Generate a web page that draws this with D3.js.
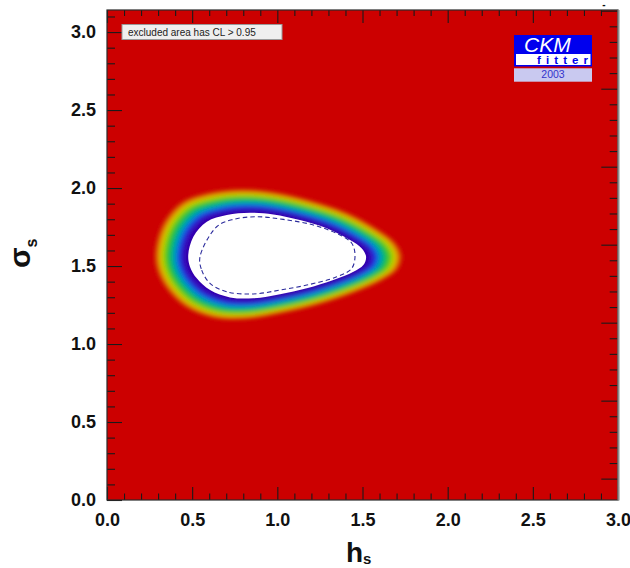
<!DOCTYPE html>
<html>
<head>
<meta charset="utf-8">
<script src="https://cdn.jsdelivr.net/npm/d3@7"></script>
<style>
  html, body { margin: 0; padding: 0; background: #fff; }
  svg { display: block; font-family: "Liberation Sans", Arial, Helvetica, sans-serif; }
</style>
</head>
<body>
<svg id="chart" width="630" height="568"></svg>
<script>
// Boundary of the allowed (white) region, as [h_s, sigma_s]
const allowedEdge = [
  [0.477, 1.571], [0.487, 1.496], [0.527, 1.421], [0.605, 1.346], [0.722, 1.299],
  [0.859, 1.293], [1.016, 1.319], [1.173, 1.357], [1.329, 1.410], [1.447, 1.463],
  [1.505, 1.506], [1.521, 1.560], [1.496, 1.613], [1.427, 1.667], [1.290, 1.742],
  [1.133, 1.795], [0.977, 1.831], [0.840, 1.842], [0.703, 1.827], [0.586, 1.784],
  [0.507, 1.688]
];

// Inner dashed contour
const dashedContour = [
  [0.546, 1.560], [0.556, 1.474], [0.605, 1.389], [0.703, 1.335], [0.859, 1.321],
  [1.016, 1.346], [1.173, 1.378], [1.349, 1.431], [1.437, 1.485], [1.456, 1.571],
  [1.437, 1.646], [1.368, 1.699], [1.212, 1.763], [1.035, 1.799], [0.879, 1.816],
  [0.742, 1.799], [0.644, 1.752]
];

// Outer edge of the coloured band, where it fades into the excluded area
const outerEdge = [
  [0.272, 1.560], [0.292, 1.410], [0.351, 1.282], [0.487, 1.197], [0.683, 1.154],
  [0.879, 1.154], [1.075, 1.197], [1.270, 1.250], [1.467, 1.314], [1.643, 1.410],
  [1.740, 1.528], [1.681, 1.624], [1.564, 1.752], [1.368, 1.870], [1.173, 1.934],
  [0.977, 1.976], [0.781, 1.998], [0.586, 1.976], [0.389, 1.923], [0.331, 1.838],
  [0.292, 1.731]
];

// Axis ranges and ticks
const hDomain = [0, 3];
const sigmaDomain = [0, Math.PI];
const rightAxisStart = -0.137;
const majorTicks = [0, 0.5, 1.0, 1.5, 2.0, 2.5, 3.0];
const minorTicks = d3.range(0, 31).map(i => i / 10).filter(v => Math.round(v * 10) % 5 !== 0);
const sigmaMinorTicks = minorTicks.concat([3.1]);

// Colour ramp across the band: 0 = edge of allowed region, 1 = excluded
const rampStops  = [0.0, 0.16, 0.26, 0.35, 0.44, 0.56, 0.68, 0.77, 0.87, 0.95, 1.0];
const rampColors = ["#3000a8", "#3a0cbe", "#1a38e4", "#0086d8", "#00aca0", "#12c042",
                    "#7ccd00", "#d2d200", "#e07c00", "#d42200", "#cc0000"];

const legendText = "excluded area has CL > 0.95";

const svg = d3.select("#chart");
const frameL = 107, frameR = 618, frameT = 10, frameB = 500;

const x = d3.scaleLinear().domain(hDomain).range([frameL, frameR]);
const y = d3.scaleLinear().domain(sigmaDomain).range([frameB, frameT]);
const yR = d3.scaleLinear().domain([rightAxisStart, rightAxisStart + Math.PI]).range([frameB, frameT]);
const ramp = d3.scaleLinear().domain(rampStops).range(rampColors).interpolate(d3.interpolateRgb);

const defs = svg.append("defs");
defs.append("clipPath").attr("id", "plotClip")
  .append("rect").attr("x", frameL).attr("y", frameT).attr("width", frameR - frameL).attr("height", frameB - frameT);
defs.append("filter").attr("id", "soft").attr("x", "-20%").attr("y", "-20%").attr("width", "140%").attr("height", "140%")
  .append("feGaussianBlur").attr("stdDeviation", 2);

// Excluded area background
svg.append("rect").attr("x", frameL).attr("y", frameT).attr("width", frameR - frameL).attr("height", frameB - frameT)
  .attr("fill", "#cc0000");

const line = d3.line().x(d => x(d[0])).y(d => y(d[1])).curve(d3.curveCatmullRomClosed.alpha(0.5));

// Band geometry: scale the allowed boundary out to the outer edge
const extentPx = (pts, i, s) => d3.extent(pts, d => s(d[i]));
const [ax0, ax1] = extentPx(allowedEdge, 0, x), [ay0, ay1] = extentPx(allowedEdge, 1, y);
const [ox0, ox1] = extentPx(outerEdge, 0, x), [oy0, oy1] = extentPx(outerEdge, 1, y);
const cx = (ax0 + ax1) / 2, cy = (ay0 + ay1) / 2;
const sx = (ox1 - ox0) / (ax1 - ax0), sy = (oy1 - oy0) / (ay1 - ay0);
const ocx = (ox0 + ox1) / 2, ocy = (oy0 + oy1) / 2;

const plot = svg.append("g").attr("clip-path", "url(#plotClip)");
const band = plot.append("g").attr("filter", "url(#soft)");
const layers = d3.range(0, 49).map(i => 1 - i / 48);
band.selectAll("path").data(layers).join("path")
  .attr("d", line(allowedEdge))
  .attr("fill", f => ramp(f))
  .attr("transform", f => {
    const kx = 1 + (sx - 1) * f, ky = 1 + (sy - 1) * f;
    const tx = cx + (ocx - cx) * f, ty = cy + (ocy - cy) * f;
    return `translate(${tx},${ty}) scale(${kx},${ky}) translate(${-cx},${-cy})`;
  });

// Allowed region
plot.append("path").attr("d", line(allowedEdge)).attr("fill", "#ffffff");

// Dashed contour
plot.append("path").attr("d", line(dashedContour))
  .attr("fill", "none").attr("stroke", "#2b2b9c").attr("stroke-width", 1.1)
  .attr("stroke-dasharray", "4.5,3");

// Axes (ticks point into the frame)
function styleAxis(g) {
  g.select(".domain").remove();
  g.selectAll(".tick line").attr("stroke", "#1a1a1a").attr("stroke-width", 1.1);
  g.selectAll(".tick text").attr("fill", "#111").attr("font-size", 18).attr("font-weight", "bold")
    .attr("font-family", "'Liberation Sans', Arial, Helvetica, sans-serif");
}
const fmt = d3.format(".1f");

svg.append("g").attr("transform", `translate(0,${frameB})`)
  .call(d3.axisBottom(x).tickValues(minorTicks).tickSize(-6.5).tickFormat("")).call(styleAxis);
svg.append("g").attr("transform", `translate(0,${frameB})`)
  .call(d3.axisBottom(x).tickValues(majorTicks).tickSize(-13).tickPadding(13).tickFormat(fmt)).call(styleAxis);

svg.append("g").attr("transform", `translate(0,${frameT})`)
  .call(d3.axisTop(x).tickValues(minorTicks).tickSize(-6).tickFormat("")).call(styleAxis);
svg.append("g").attr("transform", `translate(0,${frameT})`)
  .call(d3.axisTop(x).tickValues(majorTicks).tickSize(-13).tickFormat("")).call(styleAxis);

svg.append("g").attr("transform", `translate(${frameL},0)`)
  .call(d3.axisLeft(y).tickValues(sigmaMinorTicks).tickSize(-8).tickFormat("")).call(styleAxis);
svg.append("g").attr("transform", `translate(${frameL},0)`)
  .call(d3.axisLeft(y).tickValues(majorTicks).tickSize(-15).tickPadding(11).tickFormat(fmt)).call(styleAxis);

svg.append("g").attr("transform", `translate(${frameR},0)`)
  .call(d3.axisRight(yR).tickValues(minorTicks).tickSize(-8.3).tickFormat("")).call(styleAxis);
svg.append("g").attr("transform", `translate(${frameR},0)`)
  .call(d3.axisRight(yR).tickValues(majorTicks).tickSize(-16.7).tickFormat("")).call(styleAxis);

// Frame
svg.append("rect").attr("x", frameL).attr("y", frameT).attr("width", frameR - frameL).attr("height", frameB - frameT)
  .attr("fill", "none").attr("stroke", "#2a2a2a").attr("stroke-width", 1.2);
svg.append("line").attr("x1", frameR + 0.5).attr("x2", frameR + 0.5).attr("y1", frameT).attr("y2", frameB + 0.5)
  .attr("stroke", "#8c8c8c").attr("stroke-width", 2);
svg.append("text").attr("x", 604).attr("y", 8).attr("text-anchor", "middle")
  .attr("font-size", 10).attr("font-weight", "bold").attr("fill", "#111").text("-");

// Legend box
svg.append("rect").attr("x", 122).attr("y", 24.5).attr("width", 160).attr("height", 15)
  .attr("fill", "#efefef").attr("stroke", "#9a9a9a").attr("stroke-width", 1);
svg.append("text").attr("x", 128).attr("y", 36).attr("font-size", 10).attr("fill", "#222")
  .text(legendText);

// CKMfitter logo
const logo = svg.append("g");
logo.append("rect").attr("x", 514).attr("y", 35).attr("width", 78).attr("height", 31.5).attr("fill", "#0000ee");
logo.append("rect").attr("x", 516).attr("y", 54).attr("width", 74.5).attr("height", 11).attr("fill", "#ffffff");
logo.append("rect").attr("x", 514).attr("y", 68.3).attr("width", 78).attr("height", 13.4).attr("fill", "#c9c9f0");
logo.append("text").attr("x", 524).attr("y", 51.7).attr("font-size", 21).attr("font-style", "italic")
  .attr("fill", "#ffffff").text("CKM");
logo.append("text").attr("x", 537).attr("y", 64).attr("font-size", 11.5).attr("font-weight", "bold")
  .attr("letter-spacing", 5.1).attr("fill", "#0000ee").text("fitter");
logo.append("text").attr("x", 553).attr("y", 78.3).attr("text-anchor", "middle").attr("font-size", 10.5)
  .attr("fill", "#3333cc").text("2003");

// Axis titles
const xt = svg.append("text").attr("x", 346).attr("y", 562).attr("font-size", 28).attr("font-weight", "bold").attr("fill", "#111");
xt.append("tspan").text("h");
xt.append("tspan").attr("font-size", 15).attr("dy", 2).text("s");

const yt = svg.append("text").attr("transform", "translate(30,268) rotate(-90)")
  .attr("font-size", 30).attr("font-weight", "bold").attr("fill", "#111");
yt.append("tspan").text("σ");
yt.append("tspan").attr("font-size", 16).attr("dy", 7).text("s");
</script>
</body>
</html>
